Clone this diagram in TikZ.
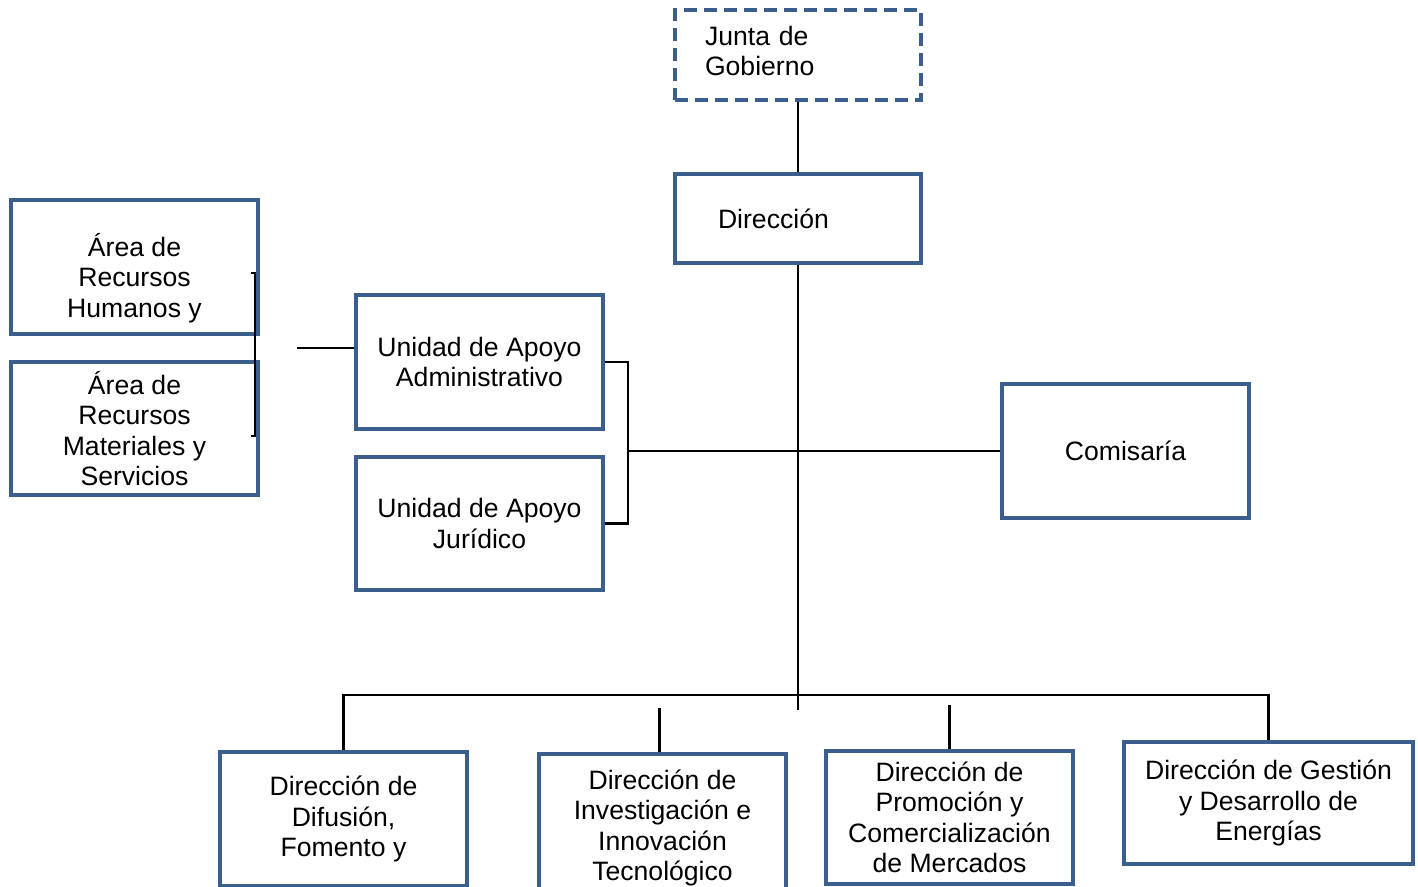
\documentclass[tikz,border=0pt]{standalone}
\usepackage{fontspec}
\setmainfont{Liberation Sans}
\usetikzlibrary{calc}
\definecolor{boxblue}{RGB}{59,94,140}

\begin{document}
\begin{tikzpicture}[x=1pt,y=-1pt]
\tikzset{unit/.style = {shape=rectangle,draw=boxblue,line width=3.4pt,minimum width=247pt,minimum height=134pt,inner sep=0pt,align=center,font=\fontsize{26.6}{30.5}\selectfont}}
\tikzset{link/.style = {line width=2.2pt,black}}
\clip (0,0) rectangle (1418,886);
%\fill[white] (0,0) rectangle (1418,886);
\node[unit,dash pattern=on 13pt off 7pt,line width=4pt,minimum width=246pt,minimum height=90pt,text width=186pt,align=left,text height=4pt,text depth=24pt] (junta) at (798,55) {Junta de\\Gobierno};
\node[unit,minimum width=246pt,minimum height=89pt,text width=160pt,align=left] (dir) at (798,218.5) {Dirección};
\node[unit] (com) at (1125.5,451) {Comisaría};
\node[unit] (uadm) at (479.5,362) {Unidad de Apoyo\\Administrativo};
\node[unit,minimum height=133pt] (ujur) at (479.5,523.5) {Unidad de Apoyo\\Jurídico};
\node[unit,text height=106pt,text depth=6pt] (rh) at (134.5,267) {Área de\\Recursos\\Humanos y};
\node[unit,minimum height=133pt] (rm) at (134.5,428.5) {Área de\\Recursos\\Materiales y\\Servicios};
\node[unit] (d1) at (343.5,819) {Dirección de\\Difusión,\\Fomento y};
\node[unit,minimum height=148pt] (d2) at (662.5,828) {Dirección de\\Investigación e\\Innovación\\Tecnológico};
\node[unit,minimum height=133pt] (d3) at (949.5,817.5) {Dirección de\\Promoción y\\Comercialización\\de Mercados};
\node[unit,minimum width=289pt,minimum height=122pt] (d4) at (1268.5,803) {Dirección de Gestión\\y Desarrollo de\\Energías};
\coordinate (hub) at (798,710);
\coordinate (bus) at (798,695);
\coordinate (brk) at (628,451);
\coordinate (lft) at (297,348);
\draw[link] (junta) -- (dir);
\draw[link] (dir) -- (hub);
\draw[link] (d1.north) |- (bus) -| (d4.north);
\draw[link] ([xshift=-3pt]d2.north) -- ++(0,-44);
\draw[link] (d3.north) -- ++(0,-44);
\draw[link] (uadm.east) -| (brk) |- (ujur.east);
\draw[link] (brk) -- (com);
\draw[link] (lft) -- (lft -| uadm.west);
\draw[link] (251,273) -- (255,273) -- (255,436) -- (251,436);
\end{tikzpicture}
\end{document}
